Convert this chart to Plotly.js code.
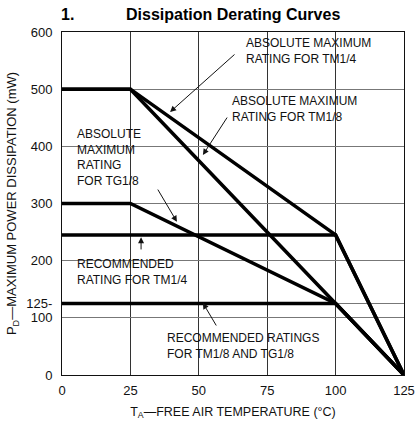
<!DOCTYPE html>
<html>
<head>
<meta charset="utf-8">
<script src="https://cdn.plot.ly/plotly-3.0.1.min.js"></script>
<style>html,body{margin:0;padding:0;background:#fff;}#chart{width:415px;height:424px;}</style>
</head>
<body>
<div id="chart"></div>
<script>
// Temperature breakpoints (°C) and power dissipation (mW)
const absTM14_x = [0, 25, 100, 125];
const absTM14_y = [500, 500, 245, 0];
const absTM18_x = [0, 25, 100, 125];
const absTM18_y = [500, 500, 125, 0];
const absTG18_x = [0, 25, 100, 125];
const absTG18_y = [300, 300, 125, 0];
const recTM14_x = [0, 100, 125];
const recTM14_y = [245, 245, 0];
const recTM18_x = [0, 100, 125];
const recTM18_y = [125, 125, 0];

const xTickVals = [0, 25, 50, 75, 100, 125];
const xTickText = ['0', '25', '50', '75', '100', '125'];
const yTickVals = [0, 100, 125, 200, 300, 400, 500, 600];
const yTickText = ['0', '100', '125-', '200', '300', '400', '500', '600'];

const FONT = '"Liberation Sans Narrow", "Arial Narrow", "Liberation Sans", Arial, sans-serif';
const FONT_REG = '"Liberation Sans", Arial, Helvetica, sans-serif';

const lineStyle = {color: '#000', width: 3.5};
const mk = (x, y, name) => ({x: x, y: y, name: name, type: 'scatter', mode: 'lines', line: lineStyle, hoverinfo: 'skip'});

const data = [
  mk(absTM14_x, absTM14_y, 'Absolute maximum TM1/4'),
  mk(absTM18_x, absTM18_y, 'Absolute maximum TM1/8'),
  mk(absTG18_x, absTG18_y, 'Absolute maximum TG1/8'),
  mk(recTM14_x, recTM14_y, 'Recommended TM1/4'),
  mk(recTM18_x, recTM18_y, 'Recommended TM1/8 and TG1/8')
];

const annFont = {family: FONT_REG, size: 12, color: '#111'};
const arrowAnn = (text, x, y, ax, ay, tx, ty) => [
  {x: x, y: y, xref: 'x', yref: 'y', ax: ax, ay: ay, axref: 'x', ayref: 'y', text: '', showarrow: true,
   arrowhead: 2, arrowsize: 1.2, arrowwidth: 1, arrowcolor: '#111'},
  {x: tx, y: ty, xref: 'x', yref: 'y', text: text, showarrow: false, xanchor: 'left', yanchor: 'middle', align: 'left', font: annFont}
];

const annotations = [].concat(
  arrowAnn('ABSOLUTE MAXIMUM<br>RATING FOR TM1/4', 39.5, 460, 63.6, 563, 66.5, 567),
  arrowAnn('ABSOLUTE MAXIMUM<br>RATING FOR TM1/8', 51.5, 385, 60.7, 453, 61.5, 466),
  arrowAnn('ABSOLUTE<br>MAXIMUM<br>RATING<br>FOR TG1/8', 42.0, 268, 34.7, 327, 4.8, 380),
  arrowAnn('RECOMMENDED<br>RATING FOR TM1/4', 28.9, 241, 28.9, 217, 4.8, 181),
  arrowAnn('RECOMMENDED RATINGS<br>FOR TM1/8 AND TG1/8', 51.5, 126, 56.7, 84, 37.5, 51)
);
annotations.push({xref: 'paper', yref: 'paper', x: -0.008, y: 1.0, yshift: 18, xanchor: 'left', yanchor: 'middle',
  text: '<b>1.</b>', showarrow: false, font: {family: FONT, size: 16, color: '#000'}});
annotations.push({xref: 'paper', yref: 'paper', x: (124 - 62) / 342, y: 1.0, yshift: 18, xanchor: 'left', yanchor: 'middle',
  text: '<b>Dissipation Derating Curves</b>', showarrow: false, font: {family: FONT, size: 16, color: '#000'}});

const layout = {
  width: 415, height: 424,
  margin: {l: 62, r: 11, t: 32, b: 49},
  paper_bgcolor: '#fff', plot_bgcolor: '#fff',
  showlegend: false,
  font: {family: FONT_REG, size: 13, color: '#111'},
  xaxis: {
    range: [0, 125], tickvals: xTickVals, ticktext: xTickText,
    showgrid: true, gridcolor: '#333', gridwidth: 1,
    showline: true, linecolor: '#111', linewidth: 1, mirror: true,
    zeroline: false, ticks: '', tickfont: {size: 13, family: FONT_REG}, ticklabelstandoff: 3,
    title: {text: 'T<sub>A</sub>—FREE AIR TEMPERATURE (°C)', font: {size: 12.5, family: FONT_REG}, standoff: 10}
  },
  yaxis: {
    range: [0, 600], tickvals: yTickVals, ticktext: yTickText,
    showgrid: true, gridcolor: '#777', gridwidth: 1,
    showline: true, linecolor: '#111', linewidth: 1, mirror: true,
    zeroline: false, ticks: '', tickfont: {size: 13, family: FONT_REG}, ticklabelstandoff: 6,
    title: {text: 'P<sub>D</sub>—MAXIMUM POWER DISSIPATION (mW)', font: {size: 13, family: FONT_REG}, standoff: 6}
  },
  annotations: annotations
};

Plotly.newPlot('chart', data, layout, {displayModeBar: false, staticPlot: true});
</script>
</body>
</html>
